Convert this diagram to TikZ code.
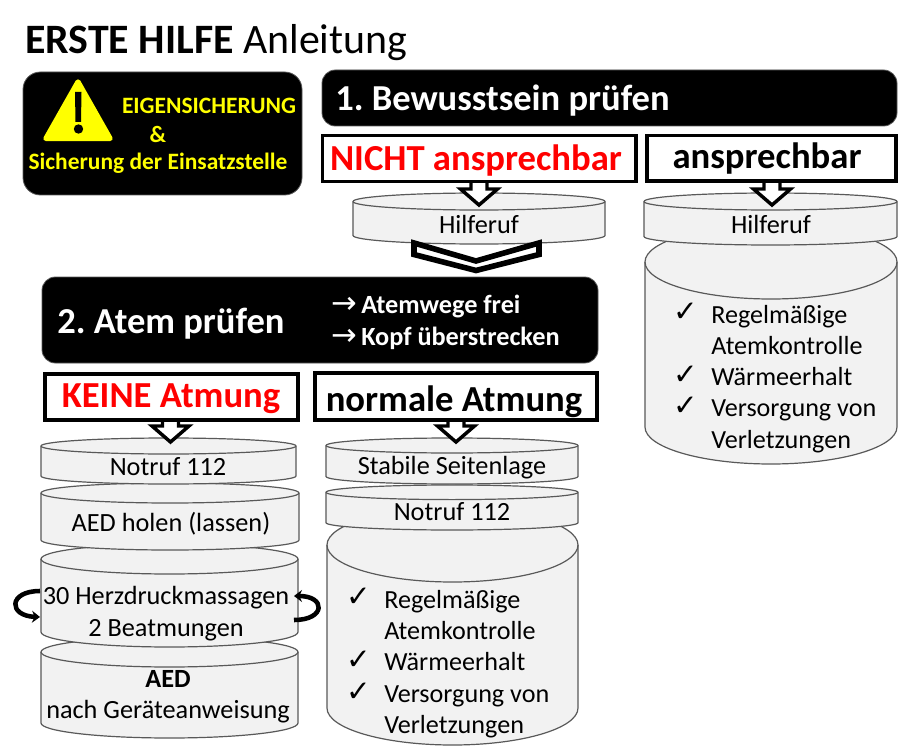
\documentclass[tikz,border=0pt]{standalone}
\usepackage{fontspec}
\setmainfont{Carlito}
\newfontfamily\dejavu{DejaVu Sans}
\usetikzlibrary{arrows.meta}
\frenchspacing
\newcommand{\cyl}[6]{% x1,x2,top,bottom,ry,name
  \path[cylfill] (#1,#3+#5) arc[start angle=180,end angle=360,x radius={(#2-#1)/2},y radius=#5]
    -- (#2,#4-#5) arc[start angle=0,end angle=180,x radius={(#2-#1)/2},y radius=#5] -- cycle;
  \draw[cylline] (#1,#3+#5) arc[start angle=180,end angle=360,x radius={(#2-#1)/2},y radius=#5]
    -- (#2,#4-#5) arc[start angle=0,end angle=180,x radius={(#2-#1)/2},y radius=#5] -- cycle;
  \draw[cylline] (#1,#3+#5) arc[start angle=180,end angle=0,x radius={(#2-#1)/2},y radius=#5];
  \coordinate (#6) at ({(#1+#2)/2},{(#3+#4)/2});
}
\newcommand{\downarrowshape}[2]{% cx, y top
  \draw[blockarrow] (#1-8,#2) -- (#1-8,#2+9) -- (#1-18.5,#2+9) -- (#1,#2+25) -- (#1+18.5,#2+9) -- (#1+8,#2+9) -- (#1+8,#2);
}
\definecolor{cylgray}{HTML}{F2F2F2}
\definecolor{cyledge}{HTML}{595959}
\definecolor{warnyellow}{HTML}{FFFF00}
\tikzset{
  cylfill/.style={fill=cylgray},
  cylline/.style={draw=cyledge,line width=0.9pt},
  blockarrow/.style={draw=black,line width=2.6pt,fill=white,miter limit=10},
  blackbox/.style={fill=black,draw=cyledge,line width=0.6pt,rounded corners=10pt},
  whitebox/.style={draw=black,line width=2.6pt,fill=white},
  cyltext/.style={font=\fontsize{19.7}{23.5}\selectfont,text=black,align=center,inner sep=0pt},
  listtext/.style={font=\fontsize{19.6}{23.5}\selectfont,text=black,align=left,anchor=west,inner sep=0pt},
  headw/.style={font=\fontsize{27.4}{32}\bfseries\selectfont,text=white,inner sep=0pt,anchor=west},
  subw/.style={font=\fontsize{19.7}{23}\bfseries\selectfont,text=white,inner sep=0pt,anchor=west},
  yel/.style={font=\fontsize{17.6}{21}\bfseries\selectfont,text=warnyellow,inner sep=0pt},
  boxhead/.style={font=\fontsize{27.5}{32}\bfseries\selectfont,inner sep=0pt},
  check/.style={font=\dejavu\fontsize{22}{24}\selectfont,inner sep=0pt},
  loop/.style={line width=3.4pt,-{Stealth[length=6pt,width=9pt]}},
}
\begin{document}
\begin{tikzpicture}[x=0.75pt,y=-0.75pt]
\useasboundingbox (0,0) rectangle (900,756);
\fill[white] (0,0) rectangle (900,756);
% title
\node[anchor=base west,inner sep=0pt,font=\fontsize{31.4}{36}\selectfont] (title) at (25,53.5) {\textbf{ERSTE HILFE} Anleitung};
% warning box
\draw[blackbox,rounded corners=13pt] (23,72) rectangle (302,195);
\fill[warnyellow,draw=warnyellow,line width=4pt,line join=round] (78,82) -- (110,138.5) -- (46,138.5) -- cycle;
\fill[black] (75,92) -- (81.5,92) -- (81,122) -- (75.5,122) -- cycle;
\fill[black] (78.5,129) circle[radius=4.7];
\node[yel] (w1) at (209,106) {EIGENSICHERUNG};
\node[yel] (w2) at (158,134) {\&};
\node[yel] (w3) at (158,163) {Sicherung der Einsatzstelle};
% step 1
\draw[blackbox] (322,70) rectangle (897,126);
\node[headw] (s1) at (335,101) {1. Bewusstsein prüfen};
% right column
\cyl{645}{897}{225}{464}{37}{big1}
\cyl{353}{605}{193}{244}{8.5}{hr1}
\cyl{644}{897}{193}{245}{8.5}{hr2}
\downarrowshape{479}{180}
\downarrowshape{772}{180}
\draw[whitebox] (322.5,135.5) rectangle (636,181.5);
\node[boxhead,text=red] (na) at (476,161) {NICHT ansprechbar};
\draw[whitebox] (647,135.5) rectangle (896,181);
\node[boxhead] (a) at (767,159) {ansprechbar};
\node[cyltext] (hrt1) at (479,224) {Hilferuf};
\node[cyltext] (hrt2) at (771,224) {Hilferuf};
\node[check] (c1) at (686,312) {✓};
\node[listtext] (l1) at (711,330) {Regelmäßige\\Atemkontrolle};
\node[check] (c2) at (686,375) {✓};
\node[listtext] (l2) at (711,377) {Wärmeerhalt};
\node[check] (c3) at (686,406) {✓};
\node[listtext] (l3) at (711,426.5) {Versorgung von\\Verletzungen};
% chevron
\draw[black,line width=4.2pt,fill=white,miter limit=10] (414,243) -- (476,261) -- (539,243) -- (539,254.5) -- (476,270.5) -- (414,254.5) -- cycle;
% step 2
\draw[blackbox] (42,277) rectangle (598,363);
\node[headw] (s2) at (57,324) {2. Atem prüfen};
\node[subw] (s2a) at (331,307) {\makebox[22.5pt][l]{\dejavu\fontsize{23}{24}\mdseries\selectfont →}Atemwege frei};
\node[subw] (s2b) at (331,338) {\makebox[22.5pt][l]{\dejavu\fontsize{23}{24}\mdseries\selectfont →}Kopf überstrecken};
% left stack
\cyl{41}{298}{637}{738}{15}{aed}
\cyl{41}{298}{544}{647}{15}{hdm}
\cyl{41}{299}{483}{550}{10}{holen}
\cyl{41}{296}{438}{484}{8}{n1}
\downarrowshape{170.5}{417}
\draw[whitebox] (45,374) rectangle (298,420);
\node[boxhead,text=red] (ka) at (171,399) {KEINE Atmung};
\node[cyltext] (n1t) at (168,467) {Notruf 112};
\node[cyltext] (holt) at (171,524) {AED holen (lassen)};
\node[cyltext] (hdt) at (166,613.5) {30 Herzdruckmassagen\\2 Beatmungen};
\node[cyltext] (aedt) at (168,697) {\textbf{AED}\\nach Geräteanweisung};
\coordinate (la) at (40,591);
\coordinate (lb) at (40,617);
\coordinate (ra) at (294,596);
\coordinate (rb) at (294,620);
\draw[loop] (la) .. controls (8,591) and (8,616) .. (lb);
\draw[loop] (rb) .. controls (326,620) and (326,596) .. (ra);
% middle stack
\cyl{327}{578}{508}{745}{37}{big2}
\cyl{326}{578}{485}{530}{7.3}{n2}
\cyl{326}{578}{438}{484}{7.5}{stab}
\downarrowshape{456}{417}
\draw[whitebox] (315,373) rectangle (597,420);
\node[boxhead] (na2) at (454,402) {normale Atmung};
\node[cyltext] (st) at (452,468) {Stabile Seitenlage};
\node[cyltext] (n2t) at (452,512) {Notruf 112};
\node[check] (d1) at (359,597) {✓};
\node[listtext] (m1) at (384,615) {Regelmäßige\\Atemkontrolle};
\node[check] (d2) at (359,660) {✓};
\node[listtext] (m2) at (384,662) {Wärmeerhalt};
\node[check] (d3) at (359,692) {✓};
\node[listtext] (m3) at (384,712) {Versorgung von\\Verletzungen};
\end{tikzpicture}
\end{document}
